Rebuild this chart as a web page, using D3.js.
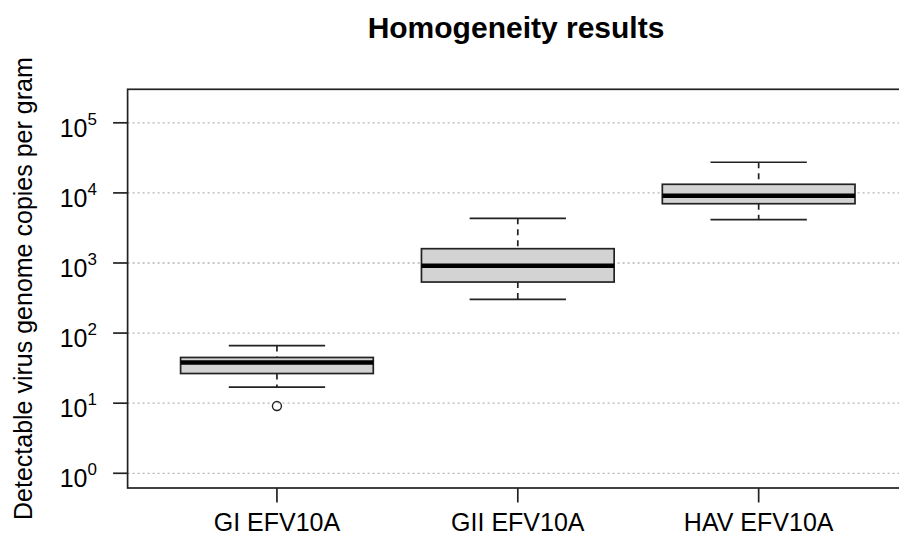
<!DOCTYPE html>
<html><head><meta charset="utf-8">
<script src="https://cdn.jsdelivr.net/npm/d3@7"></script>
<style>body{margin:0;background:#fff}svg{display:block}text{font-family:"Liberation Sans",Arial,sans-serif}</style>
</head><body><svg id="c" width="899" height="546"></svg>
<script>
const categories = ["GI EFV10A", "GII EFV10A", "HAV EFV10A"];
const lowerWhisker = [16.9, 303, 4150];
const q1 = [26.5, 535, 7010];
const median = [38.1, 915, 9120];
const q3 = [44.9, 1600, 13270];
const upperWhisker = [66.3, 4345, 27350];
const outliers = [[9.1], [], []];
const yTickExps = [0, 1, 2, 3, 4, 5];

const svg = d3.select("#c");
const L = 127.6, R = 908, T = 89.3, B = 488;
const x = d3.scaleLinear().domain([0.38, 3.62]).range([L, R]);
const y = d3.scaleLog().domain([Math.pow(10, -0.21), Math.pow(10, 5.478)]).range([B, T]);

// grid
svg.append("g").selectAll("line").data(yTickExps).join("line")
  .attr("x1", L).attr("x2", R)
  .attr("y1", d => y(Math.pow(10, d))).attr("y2", d => y(Math.pow(10, d)))
  .attr("stroke", "#b4b4b4").attr("stroke-width", 1.3).attr("stroke-dasharray", "2,3");

const boxW = 0.8, capW = 0.4;
const g = svg.append("g");
categories.forEach((c, i) => {
  const cx = x(i + 1);
  g.append("line").attr("x1", cx).attr("x2", cx).attr("y1", y(upperWhisker[i])).attr("y2", y(q3[i]))
    .attr("stroke", "#222").attr("stroke-width", 1.7).attr("stroke-dasharray", "6,5");
  g.append("line").attr("x1", cx).attr("x2", cx).attr("y1", y(q1[i])).attr("y2", y(lowerWhisker[i]))
    .attr("stroke", "#222").attr("stroke-width", 1.7).attr("stroke-dasharray", "6,5");
  [upperWhisker[i], lowerWhisker[i]].forEach(v => {
    g.append("line").attr("x1", x(i + 1 - capW / 2)).attr("x2", x(i + 1 + capW / 2))
      .attr("y1", y(v)).attr("y2", y(v)).attr("stroke", "#222").attr("stroke-width", 1.7);
  });
  g.append("rect").attr("x", x(i + 1 - boxW / 2)).attr("width", x(i + 1 + boxW / 2) - x(i + 1 - boxW / 2))
    .attr("y", y(q3[i])).attr("height", y(q1[i]) - y(q3[i]))
    .attr("fill", "#d3d3d3").attr("stroke", "#222").attr("stroke-width", 1.7);
  g.append("line").attr("x1", x(i + 1 - boxW / 2)).attr("x2", x(i + 1 + boxW / 2))
    .attr("y1", y(median[i])).attr("y2", y(median[i])).attr("stroke", "#000").attr("stroke-width", 4.5);
  outliers[i].forEach(v => {
    g.append("circle").attr("cx", cx).attr("cy", y(v)).attr("r", 4.5)
      .attr("fill", "none").attr("stroke", "#222").attr("stroke-width", 1.4);
  });
});

// frame (right edge off-canvas)
svg.append("rect").attr("x", L).attr("y", T).attr("width", R - L).attr("height", B - T)
  .attr("fill", "none").attr("stroke", "#222").attr("stroke-width", 1.7);

// y axis
const ya = svg.append("g");
yTickExps.forEach(e => {
  const yy = y(Math.pow(10, e));
  ya.append("line").attr("x1", L).attr("x2", L - 14.5).attr("y1", yy).attr("y2", yy)
    .attr("stroke", "#222").attr("stroke-width", 1.7);
  const t = ya.append("text").attr("x", 97).attr("y", yy + 14).attr("text-anchor", "end")
    .attr("font-size", 25).attr("fill", "#000");
  t.append("tspan").text("10");
  t.append("tspan").attr("dy", -12).attr("font-size", 17).text(e);
});

// x axis
categories.forEach((c, i) => {
  const cx = x(i + 1);
  svg.append("line").attr("x1", cx).attr("x2", cx).attr("y1", B).attr("y2", B + 14.5)
    .attr("stroke", "#222").attr("stroke-width", 1.7);
  svg.append("text").attr("x", cx).attr("y", 531).attr("text-anchor", "middle")
    .attr("font-size", 25).attr("fill", "#000").text(c);
});

// title
svg.append("text").attr("x", 516).attr("y", 38).attr("text-anchor", "middle")
  .attr("font-size", 30).attr("font-weight", "bold").attr("fill", "#000").text("Homogeneity results");

// y label
svg.append("text").attr("transform", `translate(32,${(T + B) / 2}) rotate(-90)`)
  .attr("text-anchor", "middle").attr("font-size", 25).attr("fill", "#000")
  .text("Detectable virus genome copies per gram");
</script></body></html>
